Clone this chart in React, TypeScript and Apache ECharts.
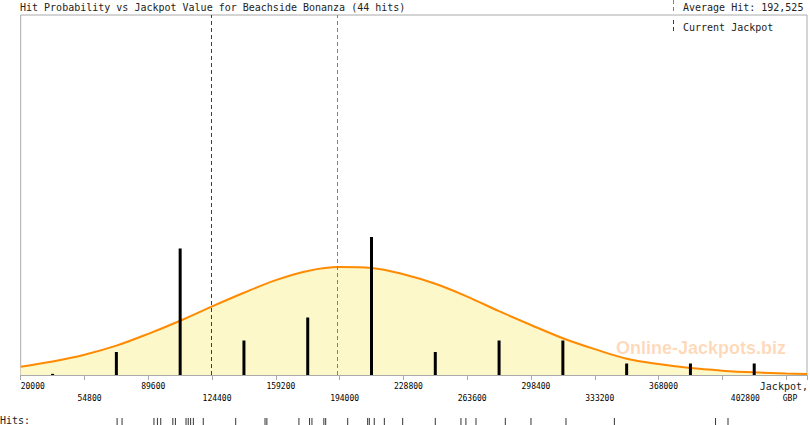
import React, { useEffect, useRef } from 'react';
import * as echarts from 'echarts';

const TITLE = 'Hit Probability vs Jackpot Value for Beachside Bonanza (44 hits)';
const AVERAGE_HIT = 192525;
const CURRENT_JACKPOT = 124100;
const X_MIN = 20000;
const X_MAX = 449000;
const X_STEP = 34800;
const Y_MAX = 31.3;
const tickLabels = [20000, 54800, 89600, 124400, 159200, 194000, 228800, 263600, 298400, 333200, 368000, 402800];

// histogram of hits (bin centres, hit counts)
const binCenters = [37400, 72200, 107000, 141800, 176600, 211400, 246200, 281000, 315800, 350600, 385400, 420200];
const binHits = [0.1, 2, 11, 3, 5, 12, 2, 3, 3, 1, 1, 1];

// fitted probability curve (in hit units)
const curveX = [20000, 37400, 54800, 72200, 89600, 107000, 124400, 141800, 159200, 176600, 194000, 211400, 228800, 246200, 263600, 281000, 298400, 315800, 333200, 350600, 368000, 385400, 402800, 420200, 437600, 449000];
const curveY = [0.72, 1.17, 1.76, 2.55, 3.58, 4.72, 5.96, 7.15, 8.25, 9.05, 9.38, 9.3, 8.76, 7.93, 6.82, 5.55, 4.35, 3.2, 2.25, 1.42, 0.95, 0.6, 0.38, 0.23, 0.13, 0.09];

// individual hits (rug)
const hitValues = [72600, 75300, 92700, 94600, 96400, 103000, 104400, 110200, 111400, 112700, 114200, 119600, 137300, 153300, 154300, 171800, 177600, 178900, 185400, 186400, 198400, 209300, 210200, 212900, 218400, 228400, 246200, 260200, 262900, 268400, 284400, 298400, 317500, 343900, 399100, 405900];

const MONO = '"DejaVu Sans Mono", monospace';
const RED = '#cc0000';
const BLUE = '#3399cc';

export default function App() {
  const ref = useRef<HTMLDivElement>(null);
  useEffect(() => {
    const chart = echarts.init(ref.current!, null, { renderer: 'svg' });
    const labelFmt = (v: number) => {
      const k = tickLabels.indexOf(v);
      if (k < 0) return '';
      if (k === 0) return '{f|' + v + '}';
      const tag = k === tickLabels.length - 1 ? 'z' : 'a';
      return (k % 2 ? '\n' : '') + '{' + tag + '|' + v + '}';
    };
    const richBase = { fontFamily: MONO, fontSize: 8, lineHeight: 12, color: '#000' };
    const vLine = (x: number, color: string) => ({
      silent: true, symbol: ['none', 'none'], label: { show: false },
      emphasis: { disabled: true },
      lineStyle: { color, type: [4, 3], width: 1, opacity: 1 },
      data: [{ xAxis: x }],
    });
    chart.setOption({
      animation: false,
      backgroundColor: '#fff',
      grid: [
        { left: 20.7, right: 3, top: 15, bottom: 50, show: true, borderColor: '#aaa', borderWidth: 1, backgroundColor: '#fff' },
        { left: 20.7, right: 3, top: 418, height: 7 },
      ],
      xAxis: [
        {
          type: 'value', gridIndex: 0, min: X_MIN, max: X_MAX, interval: X_STEP,
          splitLine: { show: false },
          axisLine: { lineStyle: { color: '#aaa' } },
          axisTick: { show: true, length: 5, lineStyle: { color: '#aaa' } },
          axisLabel: {
            margin: 5, formatter: labelFmt, lineHeight: 12, fontSize: 8, fontFamily: MONO, color: '#000',
            alignMinLabel: 'left', verticalAlign: 'top',
            rich: {
              f: { ...richBase },
              a: { ...richBase, padding: [0, 0, 0, 10] },
              z: { ...richBase, padding: [0, 0, 0, 46] },
            },
          },
        },
        { type: 'value', gridIndex: 1, min: X_MIN, max: X_MAX, show: false },
      ],
      yAxis: [
        { type: 'value', gridIndex: 0, min: 0, max: Y_MAX, show: false },
        { type: 'value', gridIndex: 1, min: 0, max: 1, show: false },
      ],
      series: [
        {
          type: 'line', xAxisIndex: 0, yAxisIndex: 0,
          data: curveX.map((x, i) => [x, curveY[i]]),
          smooth: 0.35, showSymbol: false, symbol: 'none',
          lineStyle: { color: '#ff8a00', width: 2 },
          areaStyle: { color: '#fdf8c9', opacity: 1, origin: 'start' },
          z: 2,
          markLine: vLine(CURRENT_JACKPOT, RED),
        },
        {
          type: 'bar', xAxisIndex: 0, yAxisIndex: 0,
          data: binCenters.map((x, i) => [x, binHits[i]]),
          barWidth: 3, itemStyle: { color: '#000' }, z: 3,
          markLine: vLine(AVERAGE_HIT, BLUE),
        },
        {
          type: 'scatter', xAxisIndex: 1, yAxisIndex: 1,
          data: hitValues.map((x) => [x, 0.5]),
          symbol: 'rect', symbolSize: [1, 7], itemStyle: { color: '#000' },
        },
      ],
      graphic: [
        { type: 'text', x: 20, y: 7, z: 10, style: { text: TITLE, font: '10px ' + MONO, fill: '#222', verticalAlign: 'middle' } },
        { type: 'line', z: 10, shape: { x1: 673.5, y1: 0, x2: 673.5, y2: 12 }, style: { stroke: BLUE, lineWidth: 1, lineDash: [4, 3] } },
        { type: 'text', x: 683, y: 7, z: 10, style: { text: 'Average Hit: ' + AVERAGE_HIT.toLocaleString('en-US'), font: '10px ' + MONO, fill: '#222', verticalAlign: 'middle' } },
        { type: 'line', z: 10, shape: { x1: 673.5, y1: 20, x2: 673.5, y2: 33 }, style: { stroke: RED, lineWidth: 1, lineDash: [4, 3] } },
        { type: 'text', x: 683, y: 27, z: 10, style: { text: 'Current Jackpot', font: '10px ' + MONO, fill: '#222', verticalAlign: 'middle' } },
        { type: 'text', x: 808, y: 386, z: 10, style: { text: 'Jackpot,', font: '10px ' + MONO, fill: '#222', align: 'right', verticalAlign: 'middle' } },
        { type: 'text', x: 790, y: 398, z: 10, style: { text: 'GBP', font: '8px ' + MONO, fill: '#000', align: 'center', verticalAlign: 'middle' } },
        { type: 'text', x: 0, y: 420, z: 10, style: { text: 'Hits:', font: '10px ' + MONO, fill: '#222', verticalAlign: 'middle' } },
        { type: 'text', x: 701, y: 348, z: 100, style: { text: 'Online-Jackpots.biz', font: 'bold 18px "Liberation Sans", Arial, sans-serif', fill: 'rgba(255,120,0,0.28)', align: 'center', verticalAlign: 'middle' } },
      ],
    });
    return () => chart.dispose();
  }, []);
  return <div ref={ref} style={{ position: 'fixed', left: 0, top: 0, width: 810, height: 425 }} />;
}
